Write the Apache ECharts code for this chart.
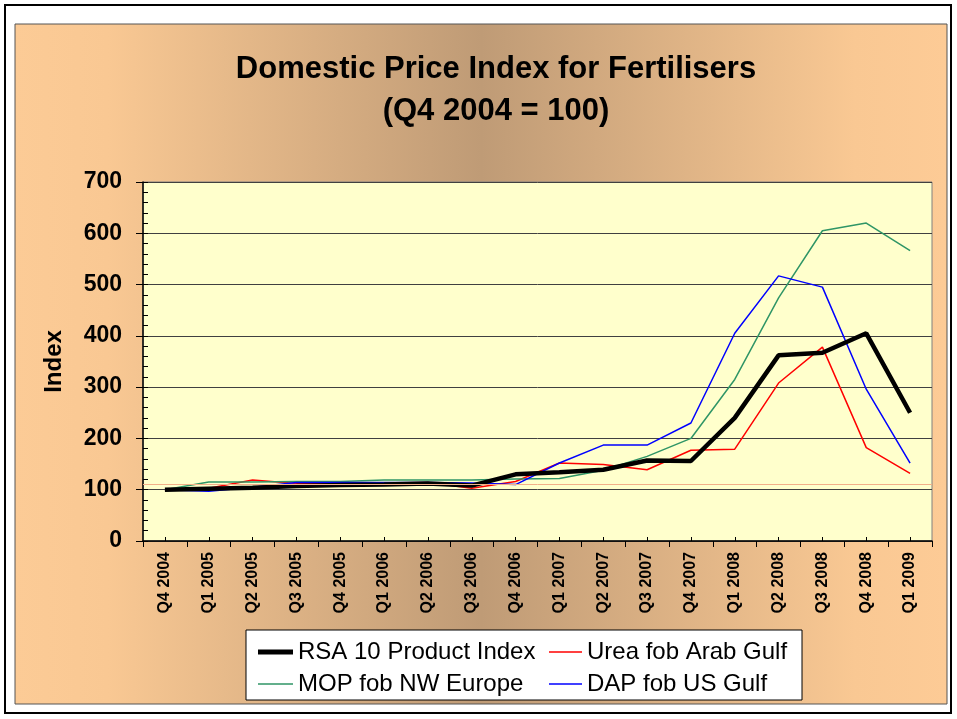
<!DOCTYPE html>
<html>
  <head>
    <meta charset="utf-8" />
    <script src="https://cdn.jsdelivr.net/npm/echarts@6.0.0/dist/echarts.min.js"></script>
    <style>
      html, body { margin: 0; padding: 0; background: #fff; }
    </style>
  </head>
  <body>
    <div id="main" style="width: 957px;height:719px;"></div>
    <script type="text/javascript">
      // quarters on the x axis
      var quarters = ['Q4 2004', 'Q1 2005', 'Q2 2005', 'Q3 2005', 'Q4 2005', 'Q1 2006',
        'Q2 2006', 'Q3 2006', 'Q4 2006', 'Q1 2007', 'Q2 2007', 'Q3 2007', 'Q4 2007',
        'Q1 2008', 'Q2 2008', 'Q3 2008', 'Q4 2008', 'Q1 2009'];

      var rsaIndex = [100, 102, 104, 107, 109, 110, 112, 108, 130, 134, 139, 157, 156, 240, 362, 367, 405, 250];
      var ureaArab = [100, 103, 119, 112, 112, 113, 114, 103, 116, 152, 149, 139, 177, 179, 308, 378, 182, 132];
      var mopEurope = [100, 115, 115, 116, 116, 119, 119, 119, 121, 122, 138, 165, 200, 315, 474, 605, 620, 566];
      var dapGulf = [100, 97, 105, 114, 114, 114, 114, 113, 110, 152, 187, 187, 230, 405, 517, 495, 296, 152];

      var refLine = 110;

      var font = '"Liberation Sans", Arial, sans-serif';
      var thickIcon = 'path://M0,0H35V5H0Z';
      var thinIcon = 'path://M0,0H35V1.5H0Z';
      var myChart = echarts.init(document.getElementById('main'));

      option = {
        animation: false,
        backgroundColor: '#ffffff',
        graphic: [
          {
            type: 'rect', z: -10,
            shape: { x: 5, y: 5, width: 946, height: 708 },
            style: { fill: '#ffffff', stroke: '#000000', lineWidth: 2 }
          },
          {
            type: 'rect', z: -9,
            shape: { x: 15, y: 24, width: 932, height: 680 },
            style: {
              stroke: '#555555', lineWidth: 1,
              fill: new echarts.graphic.LinearGradient(0, 0, 1, 0, [
                { offset: 0, color: '#fccb96' },
                { offset: 0.1, color: '#f9c893' },
                { offset: 0.5, color: '#bf9b76' },
                { offset: 0.9, color: '#f9c893' },
                { offset: 1, color: '#fdcb96' }
              ])
            }
          },
          {
            type: 'rect', z: 5,
            shape: { x: 246, y: 630, width: 556, height: 70 },
            style: { fill: '#ffffff', stroke: '#000000', lineWidth: 1 }
          }
        ],
        title: {
          text: 'Domestic Price Index for Fertilisers\n(Q4 2004 = 100)',
          left: 491,
          top: 43,
          textAlign: 'center',
          textStyle: {
            fontFamily: font, fontSize: 31, fontWeight: 'bold', color: '#000', lineHeight: 42
          }
        },
        legend: [
          {
            data: [
              { name: 'RSA 10 Product Index', icon: thickIcon },
              { name: 'MOP fob NW Europe', icon: thinIcon }
            ],
            orient: 'vertical',
            left: 253, top: 635,
            itemGap: 8, itemWidth: 35, itemHeight: 14,
            z: 10,
            textStyle: { fontFamily: font, fontSize: 24, color: '#000' }
          },
          {
            data: [
              { name: 'Urea fob Arab Gulf', icon: thinIcon },
              { name: 'DAP fob US Gulf', icon: thinIcon }
            ],
            orient: 'vertical',
            left: 544, top: 635,
            itemGap: 8, itemWidth: 33, itemHeight: 14,
            z: 10,
            textStyle: { fontFamily: font, fontSize: 24, color: '#000' }
          }
        ],
        grid: {
          left: 143, right: 25, top: 182, bottom: 178,
          show: true,
          backgroundColor: '#ffffcc',
          borderColor: '#808080',
          borderWidth: 1
        },
        xAxis: [
          {
            type: 'category',
            data: quarters,
            boundaryGap: true,
            axisLine: { lineStyle: { color: '#000', width: 1.5 } },
            axisTick: { show: true, interval: 0, inside: false, length: 6, lineStyle: { color: '#000' } },
            axisLabel: {
              interval: 0, rotate: 90, margin: 11,
              fontFamily: font, fontSize: 16, fontWeight: 'bold', color: '#000'
            }
          },
          {
            type: 'category',
            data: quarters,
            position: 'bottom',
            boundaryGap: true,
            axisLine: { show: false },
            axisTick: { show: true, alignWithLabel: true, interval: 0, inside: true, length: 4, lineStyle: { color: '#000' } },
            axisLabel: { show: false }
          }
        ],
        yAxis: [
          {
            type: 'value',
            min: 0, max: 700, interval: 100,
            name: 'Index',
            nameLocation: 'middle',
            nameRotate: 90,
            nameGap: 77,
            nameTextStyle: { fontFamily: font, fontSize: 24, fontWeight: 'bold', color: '#000' },
            axisLine: { show: true, lineStyle: { color: '#000', width: 1.5 } },
            axisTick: { show: true, length: 7, lineStyle: { color: '#000' } },
            splitLine: { show: true, lineStyle: { color: '#404040', width: 1 } },
            axisLabel: { margin: 21, fontFamily: font, fontSize: 23, fontWeight: 'bold', color: '#000' }
          },
          {
            // inner ticks: major ticks cross the axis, minor ticks sit inside
            type: 'value',
            position: 'left',
            min: 0, max: 700, interval: 100,
            axisLine: { show: false },
            axisTick: { show: true, inside: true, length: 5, lineStyle: { color: '#000' } },
            minorTick: { show: true, splitNumber: 5, length: 5, lineStyle: { color: '#000' } },
            splitLine: { show: false },
            axisLabel: { show: false }
          }
        ],
        series: [
          {
            name: 'RSA 10 Product Index',
            type: 'line',
            data: rsaIndex,
            symbol: 'none',
            z: 4,
            lineStyle: { color: '#000000', width: 4.5 },
            itemStyle: { color: '#000000' },
            markLine: {
              silent: true,
              symbol: 'none',
              label: { show: false },
              lineStyle: { color: '#f2b089', width: 1, type: 'solid' },
              data: [{ yAxis: refLine }]
            }
          },
          {
            name: 'Urea fob Arab Gulf',
            type: 'line',
            data: ureaArab,
            symbol: 'none',
            lineStyle: { color: '#ff0000', width: 1.5 },
            itemStyle: { color: '#ff0000' }
          },
          {
            name: 'MOP fob NW Europe',
            type: 'line',
            data: mopEurope,
            symbol: 'none',
            lineStyle: { color: '#2f9566', width: 1.5 },
            itemStyle: { color: '#2f9566' }
          },
          {
            name: 'DAP fob US Gulf',
            type: 'line',
            data: dapGulf,
            symbol: 'none',
            lineStyle: { color: '#0000ff', width: 1.5 },
            itemStyle: { color: '#0000ff' }
          }
        ]
      };

      myChart.setOption(option);
    </script>
  </body>
</html>
